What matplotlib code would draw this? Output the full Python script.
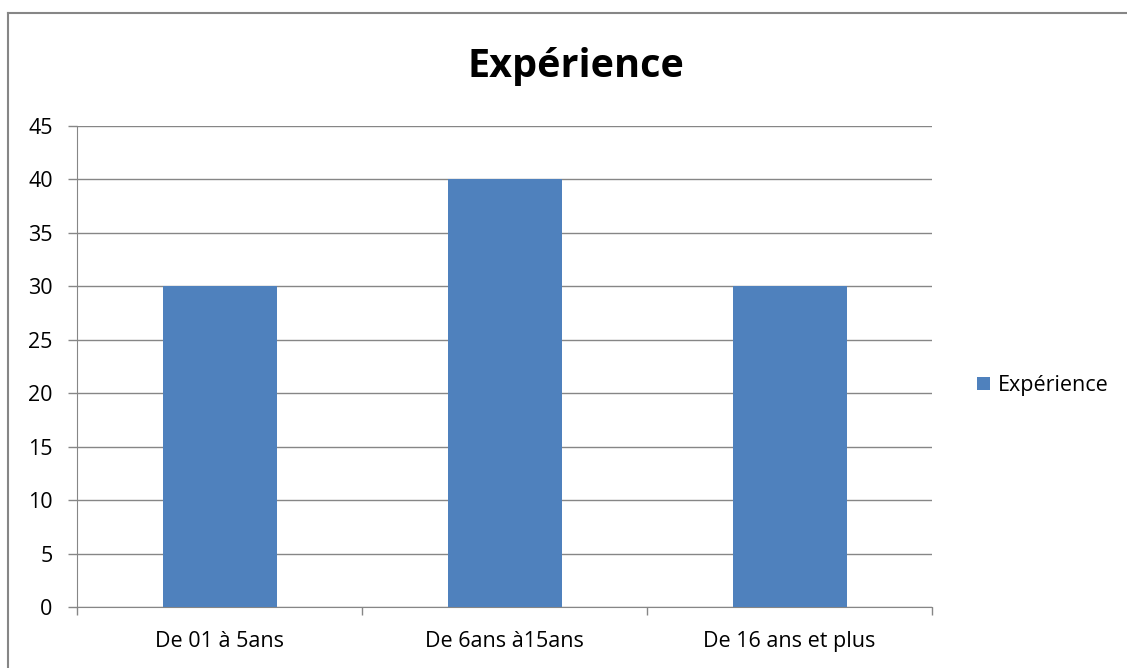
import matplotlib.pyplot as plt
from matplotlib.lines import Line2D

categories = ["De 01 à 5ans", "De 6ans à15ans", "De 16 ans et plus"]
values = [30, 40, 30]
yticks = [0, 5, 10, 15, 20, 25, 30, 35, 40, 45]

plt.rcParams['font.family'] = ['Open Sans', 'DejaVu Sans']

W, H = 1127, 668
fig = plt.figure(figsize=(W / 100, H / 100), dpi=100)
ax = fig.add_axes([77 / W, 1 - 607 / H, (932 - 77) / W, (607 - 126) / H])

x = range(len(categories))
ax.bar(x, values, width=0.4, color='#4f81bd', zorder=3, label="Expérience")

ax.set_xlim(-0.5, 2.5)
ax.set_ylim(0, 45)
ax.set_yticks(yticks)
ax.set_yticklabels([str(v) for v in yticks], fontsize=15.5)
ax.set_xticks([0.5, 1.5, 2.5, -0.5], minor=False)
ax.set_xticklabels([])
ax.set_xticks(list(x), minor=True)
ax.set_xticklabels(categories, minor=True, fontsize=15.5)
ax.tick_params(axis='x', which='minor', length=0, pad=17)
ax.tick_params(axis='x', which='major', length=6, color='#868686', width=1)
ax.tick_params(axis='y', length=6.5, color='#868686', width=1, pad=11)

ax.grid(axis='y', color='#868686', linewidth=1, zorder=0)
for side in ['top', 'right']:
    ax.spines[side].set_visible(False)
for side in ['left', 'bottom']:
    ax.spines[side].set_color('#868686')

fig.text(576 / W, 1 - 66 / H, "Expérience", fontsize=28.5, fontweight='bold',
         ha='center', va='center')

ax.legend(loc='center left', bbox_to_anchor=(1.03, 0.46), frameon=False,
          fontsize=15.5, handlelength=0.6, handleheight=0.6, handletextpad=0.35)

# outer chart border (top and left visible)
fig.add_artist(Line2D([8 / W, 1], [1 - 13 / H, 1 - 13 / H], color='#868686', lw=1.5))
fig.add_artist(Line2D([8 / W, 8 / W], [0, 1 - 13 / H], color='#868686', lw=1.5))

fig.savefig('out.png', dpi=100)
